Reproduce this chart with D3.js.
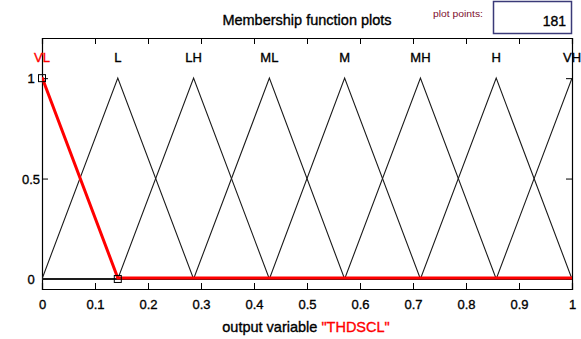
<!DOCTYPE html>
<html>
<head>
<meta charset="utf-8">
<script src="https://cdn.jsdelivr.net/npm/d3@7"></script>
<style>
  body { margin: 0; background: #fff; }
  svg { display: block; font-family: "Liberation Sans", Arial, sans-serif; }
  .heavy { stroke: currentColor; stroke-width: 0.35px; }
</style>
</head>
<body>
<svg id="chart" width="581" height="339"></svg>
<script>
// membership functions of output variable "THDSCL" (trimf: left, peak, right)
const mfNames = ["VL", "L", "LH", "ML", "M", "MH", "H", "VH"];
const mfLeft  = [-0.143, 0, 0.143, 0.286, 0.429, 0.571, 0.714, 0.857];
const mfPeak  = [0, 0.143, 0.286, 0.429, 0.571, 0.714, 0.857, 1];
const mfRight = [0.143, 0.286, 0.429, 0.571, 0.714, 0.857, 1, 1.143];
const selectedMf = 0;

const xTicks = [0, 0.1, 0.2, 0.3, 0.4, 0.5, 0.6, 0.7, 0.8, 0.9, 1];
const yTicks = [0, 0.5, 1];
const plotPoints = 181;

const svg = d3.select("#chart");
const boxLeft = 42, boxRight = 572, boxTop = 38, boxBottom = 289;

const x = d3.scaleLinear().domain([0, 1]).range([boxLeft, boxRight]);
const y = d3.scaleLinear().domain([-0.05, 1.2]).range([boxBottom, boxTop]);

// header
svg.append("text")
    .attr("class", "heavy")
    .attr("x", 307).attr("y", 25)
    .attr("text-anchor", "middle")
    .attr("font-size", 14.5)
    .style("color", "#000")
    .text("Membership function plots");

svg.append("text")
    .attr("x", 433).attr("y", 17)
    .attr("font-size", 9.5)
    .attr("textLength", 50)
    .attr("lengthAdjust", "spacingAndGlyphs")
    .attr("fill", "#801030")
    .text("plot points:");

svg.append("rect")
    .attr("x", 493.5).attr("y", 1.5)
    .attr("width", 78).attr("height", 32)
    .attr("fill", "#fff")
    .attr("stroke", "#3a3a78")
    .attr("stroke-width", 1.5);

svg.append("text")
    .attr("class", "heavy")
    .attr("x", 566).attr("y", 26)
    .attr("text-anchor", "end")
    .attr("font-size", 14)
    .style("color", "#000")
    .text(plotPoints);

// clip
svg.append("defs").append("clipPath").attr("id", "clip")
    .append("rect")
    .attr("x", boxLeft).attr("y", boxTop)
    .attr("width", boxRight - boxLeft).attr("height", boxBottom - boxTop);

// axes box with inward ticks
const g = svg.append("g");
g.append("g")
    .attr("transform", `translate(0,${boxBottom})`)
    .call(d3.axisBottom(x).tickValues(xTicks).tickSize(-6).tickPadding(11).tickFormat(d3.format("")));
g.append("g")
    .attr("transform", `translate(0,${boxTop})`)
    .call(d3.axisTop(x).tickValues(xTicks).tickSize(-6).tickFormat(""));
g.append("g")
    .attr("transform", `translate(${boxLeft},0)`)
    .call(d3.axisLeft(y).tickValues(yTicks).tickSize(-6).tickFormat(""));
g.append("g")
    .attr("transform", `translate(${boxRight},0)`)
    .call(d3.axisRight(y).tickValues(yTicks).tickSize(-6).tickFormat(""));

g.selectAll(".domain").attr("stroke", "#000").attr("stroke-width", 1.2);
g.selectAll(".tick line").attr("stroke", "#000");
g.selectAll(".tick text").attr("font-size", 13).attr("fill", "#000")
    .attr("class", "heavy").style("color", "#000")
    .attr("font-family", "Liberation Sans, Arial, sans-serif");

// y labels centred left of the axis
svg.selectAll(".ylab")
    .data(yTicks)
    .enter().append("text")
    .attr("class", "ylab heavy")
    .attr("x", 31)
    .attr("y", d => y(d) + 5)
    .attr("text-anchor", "middle")
    .attr("font-size", 13)
    .style("color", "#000")
    .text(d => d);

// x label
const xl = svg.append("text")
    .attr("class", "heavy")
    .attr("x", 306).attr("y", 332)
    .attr("text-anchor", "middle")
    .attr("font-size", 14.5)
    .style("color", "#000");
xl.append("tspan").text("output variable ");
xl.append("tspan").attr("fill", "#ff0000").style("color", "#ff0000").text("\"THDSCL\"");

// curves
function mfPoints(i) {
    const xs = [0, mfLeft[i], mfPeak[i], mfRight[i], 1].filter(v => v >= 0 && v <= 1);
    const uniq = Array.from(new Set(xs)).sort((a, b) => a - b);
    return uniq.map(v => {
        let m = 0;
        if (v >= mfLeft[i] && v <= mfPeak[i]) m = mfPeak[i] === mfLeft[i] ? 1 : (v - mfLeft[i]) / (mfPeak[i] - mfLeft[i]);
        else if (v > mfPeak[i] && v <= mfRight[i]) m = (mfRight[i] - v) / (mfRight[i] - mfPeak[i]);
        return [v, m];
    });
}

const line = d3.line().x(d => x(d[0])).y(d => y(d[1]));
const curves = svg.append("g").attr("clip-path", "url(#clip)");

mfNames.forEach((n, i) => {
    if (i === selectedMf) return;
    curves.append("path")
        .attr("d", line(mfPoints(i)))
        .attr("fill", "none")
        .attr("stroke", "#1a1a1a")
        .attr("stroke-width", 1.1);
});

curves.append("path")
    .attr("d", line(mfPoints(selectedMf)))
    .attr("transform", "translate(0,-1)")
    .attr("fill", "none")
    .attr("stroke", "#ff0000")
    .attr("stroke-width", 3);

// markers on the selected mf
svg.selectAll(".mark")
    .data([[mfPeak[selectedMf], 1], [mfRight[selectedMf], 0]])
    .enter().append("rect")
    .attr("class", "mark")
    .attr("x", d => x(d[0]) - 3.5)
    .attr("y", d => y(d[1]) - 3.5)
    .attr("width", 7).attr("height", 7)
    .attr("fill", "none")
    .attr("stroke", "#000")
    .attr("stroke-width", 1);

// mf names above the peaks
svg.selectAll(".mfname")
    .data(mfNames)
    .enter().append("text")
    .attr("class", "mfname heavy")
    .attr("x", (d, i) => x(mfPeak[i]))
    .attr("y", 62)
    .attr("text-anchor", "middle")
    .attr("font-size", 13)
    .attr("fill", (d, i) => i === selectedMf ? "#ff0000" : "#000")
    .style("color", (d, i) => i === selectedMf ? "#ff0000" : "#000")
    .text(d => d);
</script>
</body>
</html>
